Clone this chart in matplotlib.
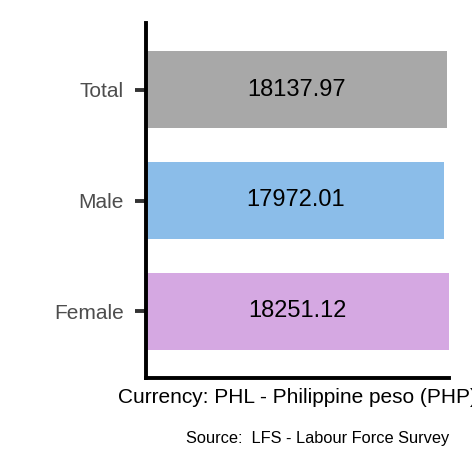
import matplotlib.pyplot as plt

# Chart data
categories = ["Female", "Male", "Total"]
values = [18251.12, 17972.01, 18137.97]
bar_colors = ["#D5A8E2", "#8BBDE9", "#A8A8A8"]
value_labels = ["18251.12", "17972.01", "18137.97"]
x_title = "Currency: PHL - Philippine peso (PHP)"
caption = "Source:  LFS - Labour Force Survey"

plt.rcParams['font.family'] = ['Liberation Sans', 'DejaVu Sans']

fig = plt.figure(figsize=(4.72, 4.72), dpi=100)
ax = fig.add_axes([146 / 472, 94 / 472, 303 / 472, 355 / 472])

positions = range(len(categories))
ax.barh(positions, values, height=0.69, color=bar_colors)

for pos, val, lab in zip(positions, values, value_labels):
    ax.text(val / 2, pos, lab, ha='center', va='center', fontsize=17, color='black')

ax.set_xlim(0, max(values))
ax.set_ylim(-0.6, 2.6)
ax.set_yticks(list(positions))
ax.set_yticklabels(categories, fontsize=15, color='#4D4D4D')
ax.set_xticks([])

for side in ['top', 'right']:
    ax.spines[side].set_visible(False)
for side in ['left', 'bottom']:
    ax.spines[side].set_linewidth(2.8)
    ax.spines[side].set_color('black')

ax.tick_params(axis='y', length=8, width=2.8, color='#333333', pad=8)

ax.set_xlabel(x_title, fontsize=15, color='black', labelpad=7)
fig.text(449 / 472, 1 - 438 / 472, caption, ha='right', va='center', fontsize=11.8)

plt.savefig('out.png', dpi=100)
